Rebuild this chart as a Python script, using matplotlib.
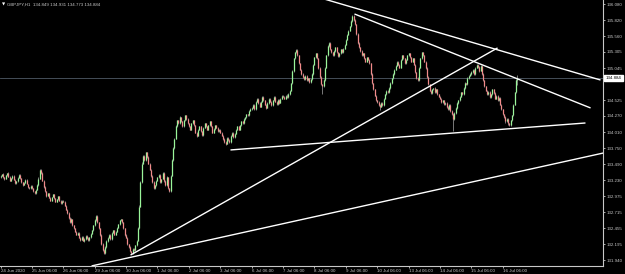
import numpy as np
import matplotlib.pyplot as plt

# GBPJPY H1 closes, one list per trading day (24 bars from 06:00)
d0 = [133.30, 133.33, 133.28, 133.25, 133.31, 133.35, 133.29, 133.22, 133.26, 133.30, 133.24, 133.18,
      133.21, 133.27, 133.32, 133.26, 133.20, 133.15, 133.19, 133.24, 133.17, 133.12, 133.10, 133.14]
d1 = [133.10, 133.05, 133.02, 133.08, 133.15, 133.25, 133.40, 133.35, 133.22, 133.12, 133.05, 132.98,
      133.02, 132.95, 132.90, 132.96, 133.00, 132.94, 132.88, 132.92, 132.97, 132.90, 132.86, 132.90]
d2 = [132.88, 132.82, 132.75, 132.70, 132.62, 132.55, 132.60, 132.50, 132.45, 132.40, 132.35, 132.38,
      132.30, 132.27, 132.32, 132.25, 132.28, 132.33, 132.30, 132.26, 132.31, 132.36, 132.42, 132.50]
d3 = [132.58, 132.65, 132.55, 132.45, 132.35, 132.20, 132.10, 132.05, 132.15, 132.25, 132.30, 132.35,
      132.28, 132.38, 132.42, 132.35, 132.40, 132.46, 132.52, 132.58, 132.60, 132.55, 132.45, 132.35]
d4 = [132.30, 132.20, 132.15, 132.08, 132.05, 132.12, 132.10, 132.18, 132.25, 132.45, 132.80, 133.20,
      133.50, 133.62, 133.55, 133.68, 133.60, 133.50, 133.40, 133.30, 133.20, 133.10, 133.15, 133.22]
d5 = [133.28, 133.32, 133.20, 133.25, 133.35, 133.22, 133.15, 133.28, 133.10, 133.05, 133.30, 133.55,
      133.75, 133.90, 134.10, 134.20, 134.15, 134.25, 134.18, 134.10, 134.20, 134.28, 134.22, 134.15]
d6 = [134.10, 134.05, 134.15, 134.20, 134.12, 134.00, 133.95, 134.05, 134.10, 134.02, 133.96, 134.08,
      134.15, 134.10, 134.05, 134.12, 134.18, 134.10, 134.00, 134.06, 134.12, 134.08, 134.02, 134.05]
d7 = [134.00, 133.95, 133.90, 133.85, 133.82, 133.92, 133.88, 133.85, 133.95, 134.00, 133.93, 133.98,
      134.05, 134.10, 134.05, 134.12, 134.18, 134.15, 134.22, 134.25, 134.30, 134.28, 134.35, 134.38]
d8 = [134.40, 134.45, 134.38, 134.50, 134.55, 134.48, 134.42, 134.50, 134.58, 134.52, 134.45, 134.40,
      134.48, 134.55, 134.50, 134.44, 134.52, 134.58, 134.50, 134.46, 134.53, 134.48, 134.55, 134.60]
d9 = [134.58, 134.55, 134.60, 134.57, 134.62, 134.68, 134.80, 135.00, 135.20, 135.30, 135.34, 135.25,
      135.12, 135.02, 134.95, 134.90, 134.86, 134.92, 134.85, 134.88, 134.82, 134.86, 134.95, 135.10]
d10 = [135.22, 135.28, 135.20, 135.05, 134.90, 134.78, 134.75, 134.85, 135.05, 135.25, 135.40, 135.45,
       135.35, 135.30, 135.25, 135.32, 135.38, 135.30, 135.24, 135.28, 135.35, 135.30, 135.36, 135.42]
d11 = [135.50, 135.58, 135.65, 135.72, 135.80, 135.88, 135.82, 135.75, 135.60, 135.45, 135.38, 135.32,
       135.25, 135.28, 135.20, 135.15, 135.22, 135.18, 135.12, 134.95, 134.80, 134.70, 134.60, 134.52]
d12 = [134.50, 134.45, 134.42, 134.48, 134.44, 134.55, 134.62, 134.68, 134.65, 134.72, 134.80, 134.88,
       134.95, 135.02, 135.08, 135.15, 135.10, 135.05, 135.18, 135.25, 135.20, 135.12, 135.18, 135.25]
d13 = [135.28, 135.22, 135.15, 135.20, 135.10, 134.98, 134.88, 134.85, 135.05, 135.20, 135.30, 135.25,
       135.15, 135.05, 134.90, 134.78, 134.68, 134.64, 134.70, 134.72, 134.66, 134.70, 134.62, 134.58]
d14 = [134.55, 134.50, 134.52, 134.46, 134.48, 134.42, 134.38, 134.45, 134.35, 134.30, 134.22, 134.32,
       134.40, 134.48, 134.52, 134.58, 134.65, 134.62, 134.72, 134.80, 134.78, 134.88, 134.92, 134.95]
d15 = [134.98, 135.02, 134.95, 135.05, 135.10, 135.06, 135.00, 135.08, 134.95, 134.85, 134.75, 134.68,
       134.62, 134.66, 134.58, 134.62, 134.70, 134.64, 134.55, 134.60, 134.52, 134.56, 134.45, 134.38]
d16 = [134.30, 134.25, 134.18, 134.22, 134.15, 134.12, 134.20, 134.28, 134.45, 134.65, 134.849, 134.884]
first_open = 133.28

# wick lengths in points (0.001)
wick_up = [8, 5, 12, 6, 10, 4, 15, 7, 5, 9, 12, 6, 8, 10, 5, 7, 11, 6, 9, 4, 8, 6, 5, 7,
           6, 9, 5, 12, 20, 25, 15, 10, 8, 6, 12, 7, 5, 9, 11, 6, 8, 10, 5, 7, 6, 9, 5, 8,
           7, 10, 6, 8, 12, 9, 15, 7, 6, 10, 8, 5, 9, 7, 12, 6, 8, 10, 7, 5, 9, 12, 8, 10,
           25, 15, 10, 8, 12, 9, 7, 15, 10, 8, 12, 6, 9, 11, 7, 10, 8, 12, 9, 15, 10, 8, 12, 9,
           10, 8, 6, 9, 7, 12, 8, 10, 15, 20, 25, 18, 22, 15, 18, 12, 10, 15, 9, 12, 8, 10, 7, 9,
           8, 12, 10, 7, 15, 9, 6, 12, 8, 10, 15, 20, 18, 15, 22, 12, 10, 15, 9, 12, 8, 10, 7, 9,
           10, 8, 12, 9, 7, 11, 8, 10, 12, 6, 9, 8, 12, 7, 10, 9, 11, 8, 6, 10, 7, 9, 8, 6,
           8, 10, 7, 9, 12, 8, 6, 10, 9, 7, 11, 8, 10, 12, 7, 9, 8, 10, 12, 7, 9, 8, 10, 11,
           9, 12, 8, 10, 15, 7, 9, 11, 12, 8, 10, 7, 9, 12, 8, 10, 11, 9, 7, 10, 8, 12, 9, 10,
           8, 10, 15, 20, 15, 12, 10, 8, 9, 12, 10, 7, 9, 11, 8, 10, 12, 9, 11, 8, 10, 7, 9, 8,
           10, 8, 12, 9, 7, 10, 12, 11, 9, 8, 10, 12, 9, 7, 10, 11, 8, 12, 9, 7, 10, 8, 12, 10,
           12, 15, 10, 12, 20, 25, 15, 10, 12, 9, 8, 11, 10, 8, 12, 9, 10, 8, 12, 9, 7, 10, 8, 9,
           10, 8, 12, 9, 11, 10, 12, 8, 9, 10, 12, 8, 9, 11, 10, 8, 12, 9, 10, 11, 8, 12, 9, 10,
           12, 10, 9, 11, 15, 10, 8, 12, 10, 9, 11, 8, 10, 12, 9, 8, 10, 11, 9, 8, 10, 9, 11, 8,
           9, 10, 8, 11, 9, 12, 10, 8, 11, 9, 10, 12, 9, 11, 10, 8, 12, 9, 10, 11, 9, 12, 10, 8,
           15, 12, 10, 9, 11, 8, 10, 12, 9, 10, 8, 11, 9, 10, 12, 8, 9, 11, 10, 8, 12, 9, 10, 8,
           10, 8, 12, 9, 11, 10, 8, 12, 10, 9, 15, 47]
wick_dn = [6, 9, 7, 12, 5, 8, 10, 6, 9, 11, 7, 13, 8, 6, 10, 9, 12, 7, 5, 10, 8, 12, 9, 6,
           9, 7, 12, 8, 6, 10, 8, 12, 9, 11, 7, 14, 10, 8, 12, 9, 6, 11, 8, 10, 7, 12, 9, 8,
           10, 12, 8, 11, 9, 14, 7, 12, 10, 8, 13, 9, 11, 15, 8, 10, 12, 9, 14, 11, 8, 10, 7, 9,
           8, 10, 12, 15, 18, 22, 15, 20, 10, 9, 12, 8, 11, 9, 10, 12, 8, 10, 9, 11, 7, 10, 12, 14,
           12, 15, 10, 14, 12, 9, 11, 10, 8, 9, 7, 10, 8, 12, 10, 9, 11, 12, 10, 15, 12, 10, 9, 11,
           10, 9, 14, 11, 8, 12, 15, 10, 18, 12, 9, 8, 10, 12, 9, 11, 10, 12, 8, 10, 11, 9, 12, 10,
           9, 11, 8, 10, 12, 9, 14, 10, 8, 12, 11, 9, 10, 8, 12, 9, 10, 11, 13, 9, 10, 8, 12, 9,
           12, 10, 14, 12, 15, 9, 11, 13, 10, 12, 9, 11, 10, 8, 12, 10, 9, 11, 8, 10, 12, 9, 10, 8,
           10, 9, 12, 10, 8, 11, 12, 9, 10, 12, 11, 13, 9, 10, 12, 11, 9, 10, 12, 11, 9, 10, 8, 9,
           10, 8, 9, 7, 10, 12, 11, 13, 12, 14, 12, 9, 14, 11, 10, 9, 11, 12, 10, 9, 11, 12, 9, 10,
           12, 10, 11, 13, 14, 10, 120, 8, 10, 11, 12, 9, 8, 10, 12, 9, 10, 8, 11, 10, 9, 8, 10, 9,
           10, 9, 8, 11, 10, 8, 12, 11, 15, 18, 12, 10, 12, 13, 15, 11, 14, 12, 10, 13, 11, 10, 12, 14,
           15, 18, 50, 12, 10, 9, 10, 11, 12, 10, 9, 11, 10, 12, 10, 9, 11, 10, 9, 10, 11, 9, 10, 9,
           10, 9, 12, 10, 9, 11, 12, 10, 9, 11, 14, 12, 10, 13, 15, 12, 14, 11, 13, 10, 12, 14, 10, 11,
           12, 14, 13, 10, 12, 15, 14, 10, 12, 14, 200, 10, 11, 10, 9, 11, 10, 9, 11, 10, 9, 8, 10, 9,
           10, 9, 12, 10, 11, 12, 14, 10, 12, 13, 10, 14, 12, 10, 15, 12, 10, 14, 13, 10, 12, 15, 11, 14,
           15, 14, 18, 12, 20, 12, 10, 9, 10, 11, 12, 76]

# price axis labels
y_ticks = [136.080, 135.820, 135.560, 135.305, 135.045, 134.525, 134.270, 134.010, 133.750,
           133.490, 133.230, 132.975, 132.715, 132.455, 132.195, 131.940]
# time axis labels (one every 24 bars)
x_labels = ['24 Jun 2020', '25 Jun 06:00', '26 Jun 06:00', '29 Jun 06:00', '30 Jun 06:00',
            '1 Jul 06:00', '2 Jul 06:00', '3 Jul 06:00', '6 Jul 06:00', '7 Jul 06:00',
            '8 Jul 06:00', '9 Jul 06:00', '10 Jul 06:00', '13 Jul 06:00', '14 Jul 06:00',
            '15 Jul 06:00', '16 Jul 06:00']
header = 'GBPJPY,H1  134.849 134.931 134.773 134.884'
last_price = 134.884

# trend lines: (bar, price) start and end
trend_lines = [
    ((246.0, 136.17), (458.7, 134.851)),
    ((270.6, 135.919), (451.1, 134.399)),
    ((99.4, 132.02), (380.0, 135.37)),
    ((175.8, 133.72), (447.2, 134.156)),
    ((69.6, 131.844), (461.0, 133.671)),
]

closes = np.array(d0 + d1 + d2 + d3 + d4 + d5 + d6 + d7 + d8 + d9 + d10 + d11 + d12 + d13 + d14 + d15 + d16)
opens = np.r_[first_open, closes[:-1]]
highs = np.maximum(opens, closes) + np.array(wick_up) / 1000
lows = np.minimum(opens, closes) - np.array(wick_dn) / 1000
idx = np.arange(len(closes))
up = closes >= opens

plt.rcParams['font.family'] = ['Liberation Sans', 'DejaVu Sans']
fg = '#c8c8c8'
fs = 3.2

fig = plt.figure(figsize=(6.25, 2.74), dpi=100, facecolor='black')
ax = fig.add_axes([0, 8 / 274, 603 / 625, 266 / 274], facecolor='black')

ax.axhline(last_price, color='#505a66', lw=0.6)
ax.vlines(idx, lows, highs, color='#8c8c8c', lw=0.6)
ax.vlines(idx[up], opens[up], closes[up], color='#9af59a', lw=0.9)
ax.vlines(idx[~up], closes[~up], opens[~up], color='#f28a8a', lw=0.9)

for (x0, y0), (x1, y1) in trend_lines:
    ax.plot([x0, x1], [y0, y1], color='white', lw=1.0, solid_capstyle='butt')

ax.set_xlim(-0.4, 460.6)
ax.set_ylim(131.843, 136.145)

for s in ['top', 'left']:
    ax.spines[s].set_visible(False)
for s in ['bottom', 'right']:
    ax.spines[s].set_color(fg)
    ax.spines[s].set_linewidth(0.8)

ax.yaxis.tick_right()
ax.set_yticks(y_ticks)
ax.set_yticklabels([f'{v:.3f}' for v in y_ticks])
ax.set_xticks(np.arange(len(x_labels)) * 24)
ax.set_xticklabels(x_labels, ha='left')
ax.tick_params(axis='both', colors=fg, labelsize=fs, length=1.5, width=0.6, pad=1)
ax.tick_params(axis='x', pad=0.8)

# current price marker
ax.text(1.004, last_price, f'{last_price:.3f}', transform=ax.get_yaxis_transform(),
        fontsize=fs, color='black', va='center', ha='left',
        bbox=dict(boxstyle='square,pad=0.3', fc='white', ec='white'))

fig.text(2 / 625, 1 - 4 / 274, '\u25bc', fontsize=3, color='white', va='center', ha='left',
         family='DejaVu Sans')
fig.text(7 / 625, 1 - 4.5 / 274, header, fontsize=fs, color=fg, va='center', ha='left')

fig.savefig('out.png', dpi=100, facecolor='black')
